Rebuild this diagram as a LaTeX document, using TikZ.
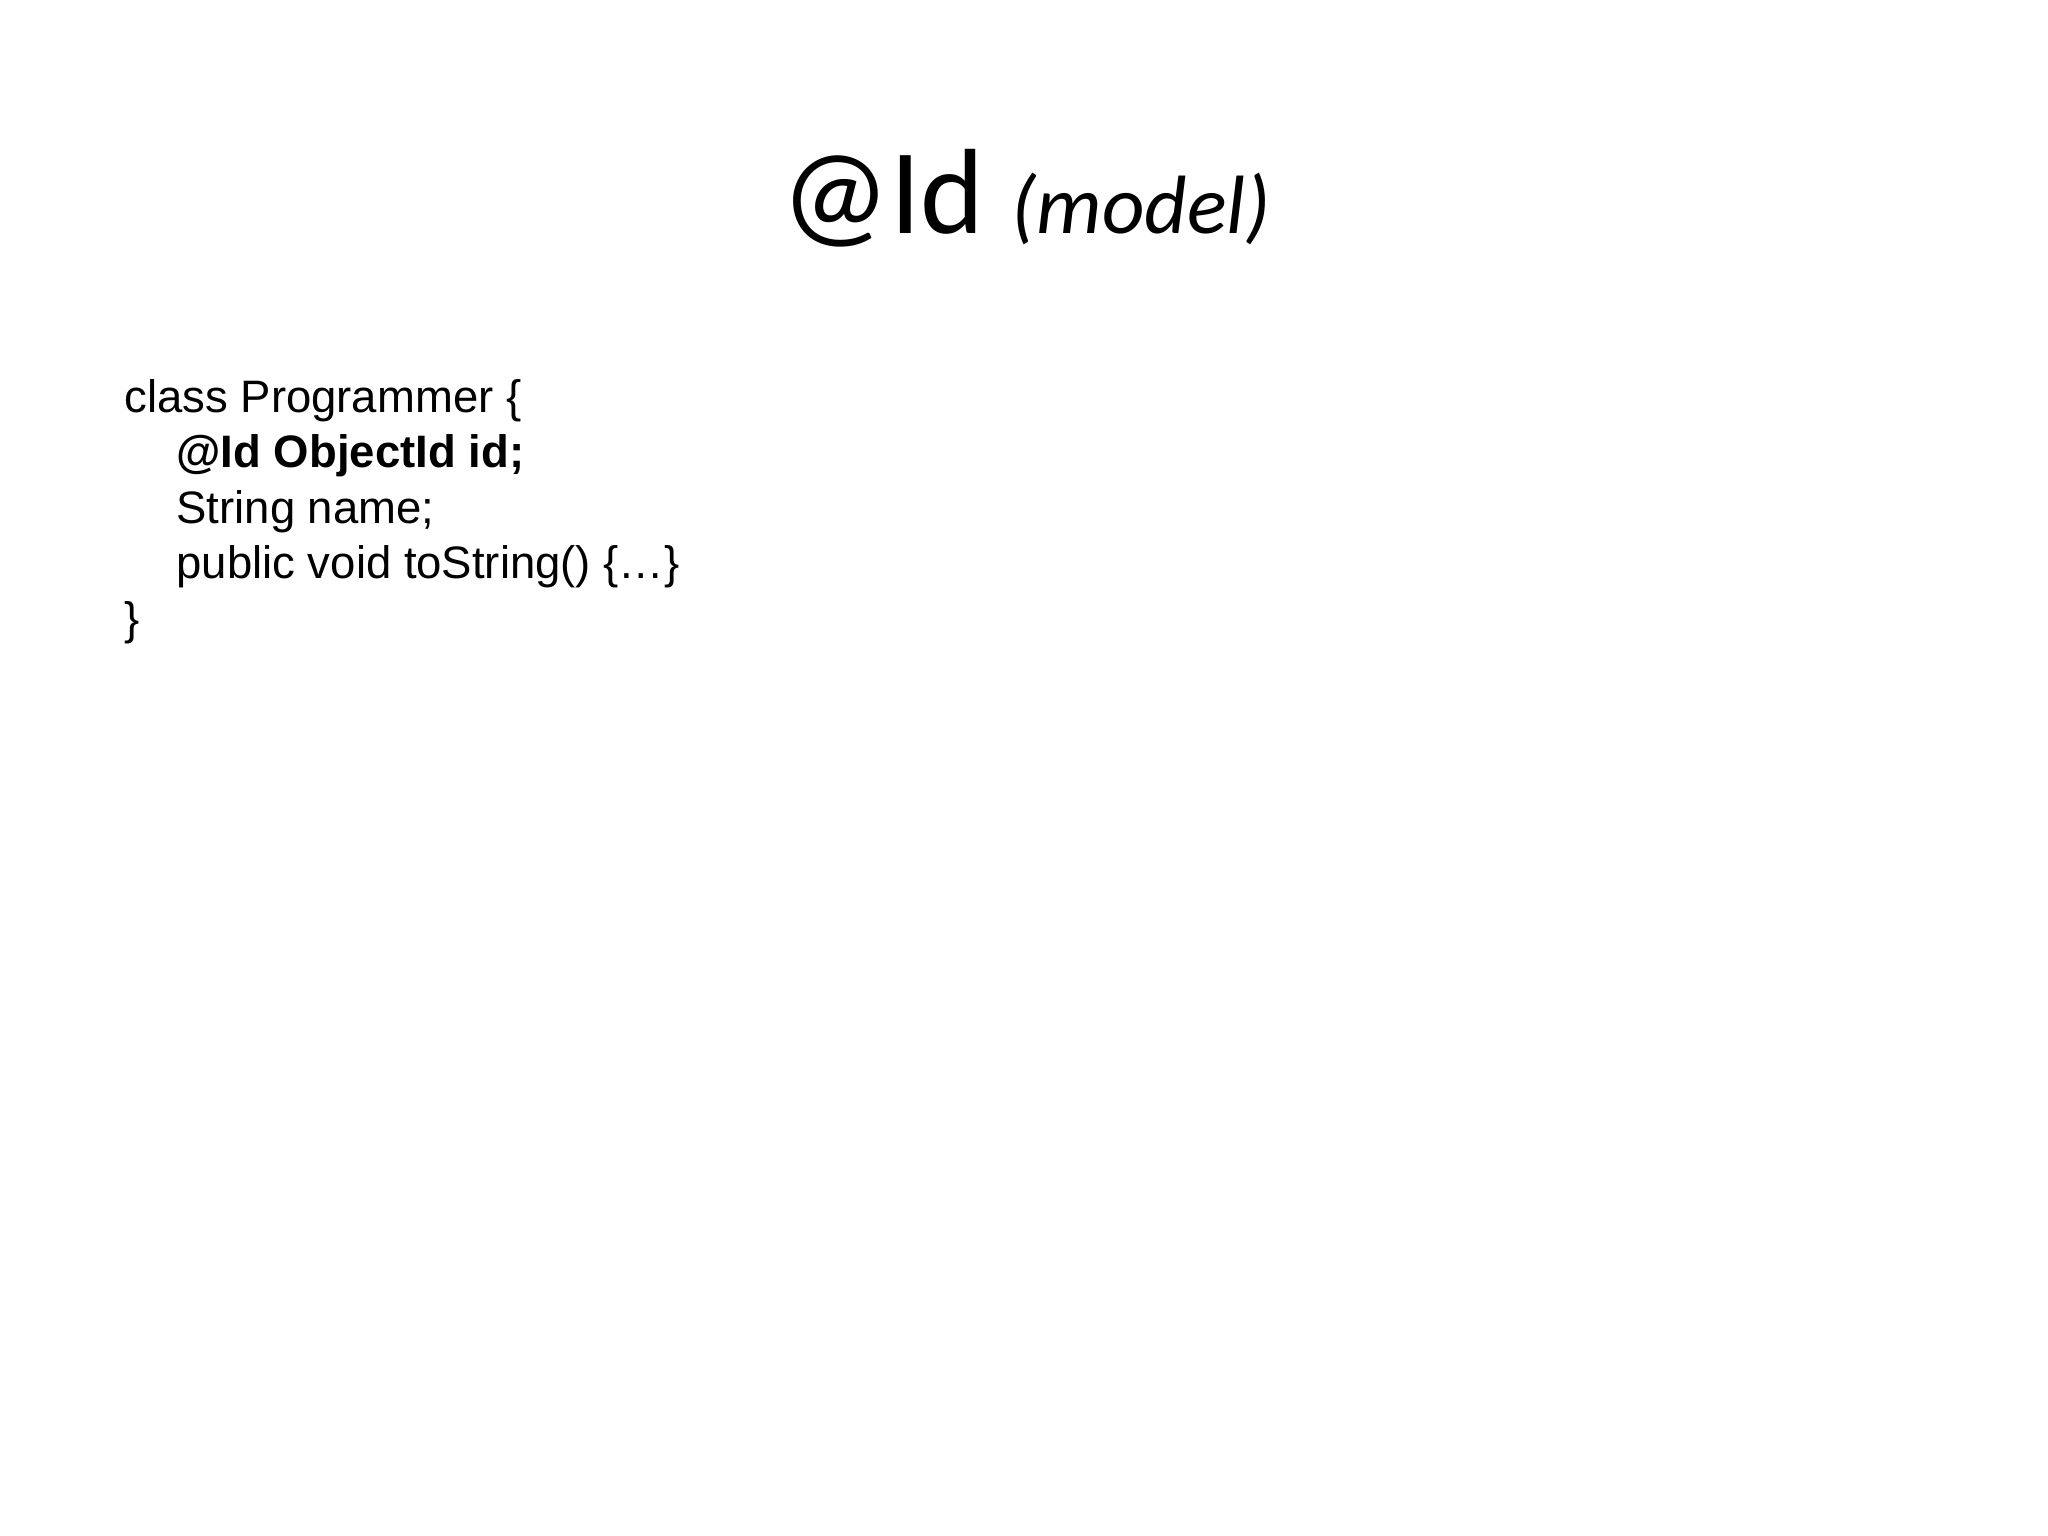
\documentclass[tikz,border=0pt]{standalone}
\usepackage{fontspec}
\setmainfont{Liberation Sans}
\newfontfamily\titlefont{Carlito}
\begin{document}
\begin{tikzpicture}[x=0.3515625bp,y=-0.3515625bp,
  codeline/.style={anchor=base west,inner sep=0pt,font=\fontsize{16.05}{19}\selectfont},
  titletext/.style={anchor=base west,inner sep=0pt}]
\useasboundingbox[fill=white] (0,0) rectangle (2048,1536);
\node[titletext] (title) at (781,233) {\titlefont\fontsize{42.8}{52}\selectfont @Id \fontsize{29.2}{36}\selectfont\itshape (model)};
\node[codeline] (l1) at (124,412) {class Programmer \{};
\node[codeline] (l2) at (176,467) {\bfseries @Id ObjectId id;};
\node[codeline] (l3) at (176,523) {String name;};
\node[codeline] (l4) at (176,578) {public void toString() \{…\}};
\node[codeline] (l5) at (124,634) {\}};
\end{tikzpicture}
\end{document}
